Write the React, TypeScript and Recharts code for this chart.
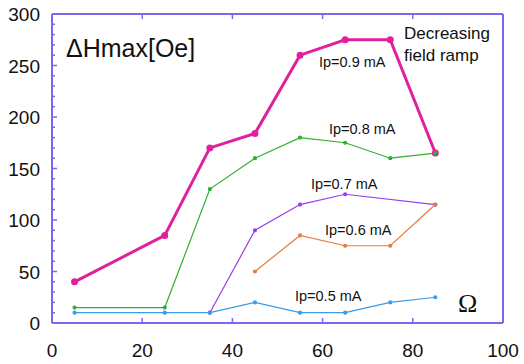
import React from "react";
import { LineChart, Line, XAxis, YAxis } from "recharts";

const omega = [5, 25, 35, 45, 55, 65, 75, 85];
const ip09 = [40, 85, 170, 184, 260, 275, 275, 165];
const ip08 = [15, 15, 130, 160, 180, 175, 160, 165];
const ip07 = [null, null, 10, 90, 115, 125, null, 115];
const ip06 = [null, null, null, 50, 85, 75, 75, 115];
const ip05 = [10, 10, 10, 20, 10, 10, 20, 25];

const xTicks = [0, 20, 40, 60, 80, 100];
const yTicks = Array.from({ length: 31 }, (_, i) => i * 10);

const data = omega.map((o, i) => ({
  o,
  a: ip09[i],
  b: ip08[i],
  c: ip07[i],
  d: ip06[i],
  e: ip05[i],
}));

const AXIS = "mediumslateblue";
const FONT = "'Liberation Sans', Arial, sans-serif";

const W = 524;
const H = 364;
const M = { top: 4, right: 11, left: 8, bottom: 11 };

function BottomTick(p: any) {
  const v = p.payload.value;
  const inner = v !== 0 && v !== 100;
  return (
    <g>
      {inner ? <line x1={p.x} y1={p.y} x2={p.x} y2={p.y - 5} stroke={AXIS} strokeWidth={1.5} /> : null}
      <text x={p.x} y={p.y + 34} textAnchor="middle" fontSize={19} fontFamily={FONT} fill="#111">
        {v}
      </text>
    </g>
  );
}

function TopTick(p: any) {
  const v = p.payload.value;
  if (v === 0 || v === 100) return <g />;
  return <line x1={p.x} y1={p.y} x2={p.x} y2={p.y + 5} stroke={AXIS} strokeWidth={1.5} />;
}

function LeftTick(p: any) {
  const v = p.payload.value;
  const major = v % 50 === 0;
  const len = major ? 5 : 3;
  return (
    <g>
      {v !== 0 && v !== 300 ? (
        <line x1={p.x} y1={p.y} x2={p.x + len} y2={p.y} stroke={AXIS} strokeWidth={1.5} />
      ) : null}
      {major ? (
        <text x={p.x - 12} y={p.y + 7} textAnchor="end" fontSize={19} fontFamily={FONT} fill="#111">
          {v}
        </text>
      ) : null}
    </g>
  );
}

function RightTick(p: any) {
  const v = p.payload.value;
  const major = v % 50 === 0;
  const len = major ? 5 : 3;
  if (v === 0 || v === 300) return <g />;
  return <line x1={p.x} y1={p.y} x2={p.x - len} y2={p.y} stroke={AXIS} strokeWidth={1.5} />;
}

const colors = ["#e0219b", "#2fb12f", "#9a3cf0", "#ea7a3a", "#3a9be8"];

const labels = [
  { t: "Ip=0.9 mA", x: 319, y: 67 },
  { t: "Ip=0.8 mA", x: 329, y: 134 },
  { t: "Ip=0.7 mA", x: 311, y: 189 },
  { t: "Ip=0.6 mA", x: 325, y: 235 },
  { t: "Ip=0.5 mA", x: 295, y: 301 },
];

const axisLine = { stroke: AXIS, strokeWidth: 2 };

export default function App() {
  return (
    <div style={{ position: "absolute", left: 0, top: 0, width: W, height: H }}>
      <svg
        width={W}
        height={H}
        style={{ position: "absolute", left: 0, top: 0, pointerEvents: "none" }}
      >
        <text x={66} y={57} fontSize={25} fontFamily={FONT} fill="#111">
          ΔHmax[Oe]
        </text>
        <text x={404} y={39} fontSize={17} fontFamily={FONT} fill="#111">
          Decreasing
        </text>
        <text x={404} y={61} fontSize={17} fontFamily={FONT} fill="#111">
          field ramp
        </text>
        {labels.map((l) => (
          <text key={l.t} x={l.x} y={l.y} fontSize={14.5} fontFamily={FONT} fill="#111">
            {l.t}
          </text>
        ))}
        <text x={458} y={312} fontSize={26} fontFamily="'Liberation Serif', 'Times New Roman', serif" fill="#111">
          Ω
        </text>
      </svg>
      <LineChart width={W} height={H} data={data} margin={M}>
        <XAxis
          dataKey="o"
          type="number"
          domain={[0, 100]}
          ticks={xTicks}
          interval={0}
          axisLine={axisLine}
          stroke={AXIS}
          tickSize={0}
          tickMargin={0}
          tickLine={false}
          height={30}
          tick={<BottomTick />}
        />
        <XAxis
          xAxisId="top"
          dataKey="o"
          type="number"
          domain={[0, 100]}
          ticks={xTicks}
          interval={0}
          orientation="top"
          axisLine={axisLine}
          stroke={AXIS}
          tickSize={0}
          tickMargin={0}
          tickLine={false}
          height={10}
          tick={<TopTick />}
        />
        <YAxis
          domain={[0, 300]}
          ticks={yTicks}
          interval={0}
          axisLine={axisLine}
          stroke={AXIS}
          tickSize={0}
          tickMargin={0}
          tickLine={false}
          width={44}
          tick={<LeftTick />}
        />
        <YAxis
          yAxisId="right"
          orientation="right"
          domain={[0, 300]}
          ticks={yTicks}
          interval={0}
          axisLine={axisLine}
          stroke={AXIS}
          tickSize={0}
          tickMargin={0}
          tickLine={false}
          width={10}
          tick={<RightTick />}
        />
        <Line dataKey="a" stroke={colors[0]} strokeWidth={3} dot={{ r: 2, fill: colors[0], stroke: colors[0] }} activeDot={false} isAnimationActive={false} />
        <Line dataKey="b" stroke={colors[1]} strokeWidth={1.2} dot={{ r: 1.5, fill: colors[1], stroke: colors[1] }} activeDot={false} isAnimationActive={false} />
        <Line dataKey="c" stroke={colors[2]} strokeWidth={1.2} dot={{ r: 1.5, fill: colors[2], stroke: colors[2] }} activeDot={false} connectNulls isAnimationActive={false} />
        <Line dataKey="d" stroke={colors[3]} strokeWidth={1.2} dot={{ r: 1.5, fill: colors[3], stroke: colors[3] }} activeDot={false} isAnimationActive={false} />
        <Line dataKey="e" stroke={colors[4]} strokeWidth={1.2} dot={{ r: 1.5, fill: colors[4], stroke: colors[4] }} activeDot={false} isAnimationActive={false} />
      </LineChart>
    </div>
  );
}
